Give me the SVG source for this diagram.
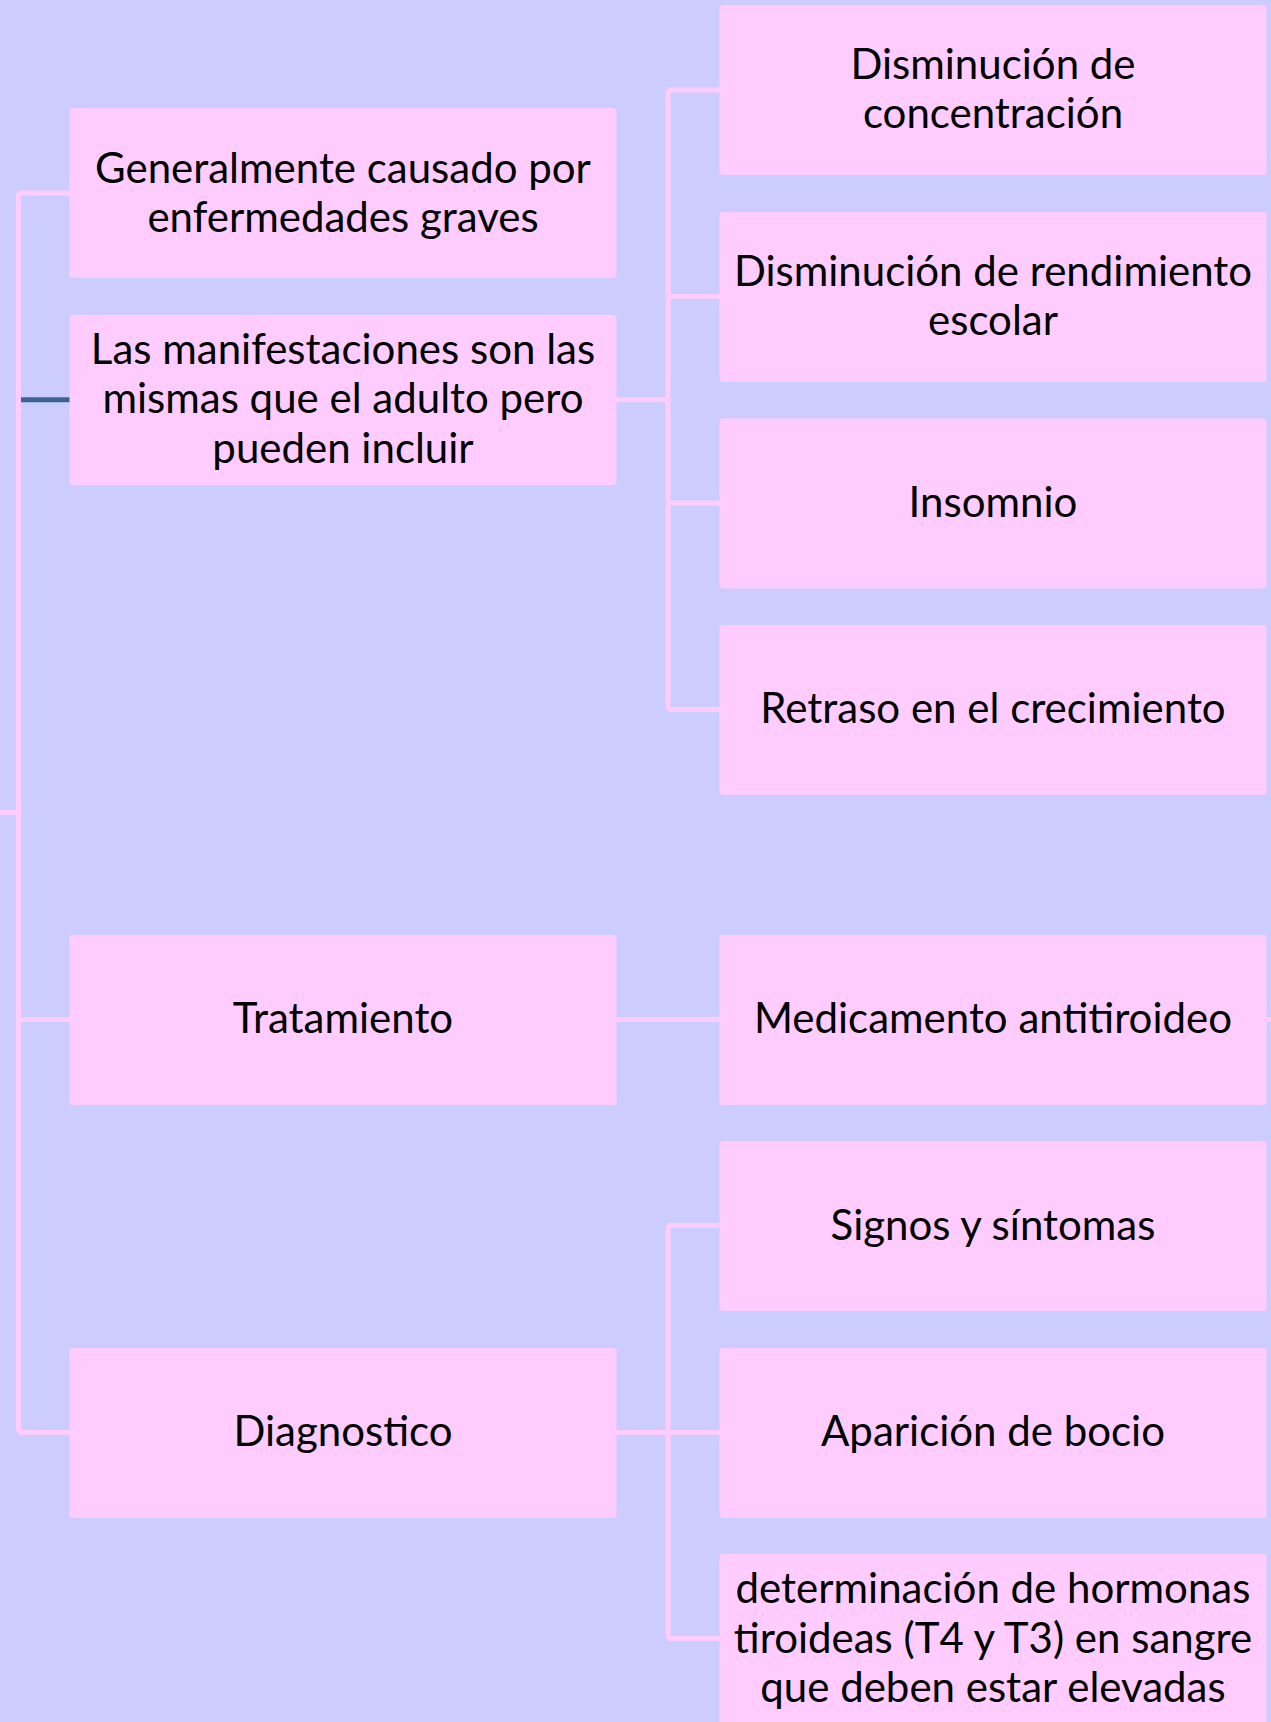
<svg xmlns="http://www.w3.org/2000/svg" width="1271" height="1722" viewBox="0 0 1271 1722">
<style>
.bg{fill:#CCCCFF}
.box{fill:#FFCCFF}
.ln{stroke:#FFCCFF;stroke-width:5;fill:none}
.t{font-family:Lato,"Open Sans",sans-serif;font-size:42px;fill:#000;text-anchor:middle}
</style>
<rect class="bg" x="0" y="0" width="1271" height="1722"/>
<g id="connectors">
<path class="ln" d="M0,812.5 H18.5 M18.5,193 V1432.5 M18.5,193 H70 M18.5,1019.5 H70 M18.5,1432.5 H70"/>
<path d="M21,399.7 H70" stroke="#3A6494" stroke-width="5" fill="none"/>
<path class="ln" d="M616,399.7 H668 M668,90 V709.5 M668,90 H720 M668,296.5 H720 M668,503 H720 M668,709.5 H720"/>
<path class="ln" d="M616,1019.5 H720 M1266,1019.5 H1271"/>
<path class="ln" d="M616,1432.5 H720 M668,1225.5 V1638.5 M668,1225.5 H720 M668,1638.5 H720"/>
</g>
<g id="n-causado"><rect class="box" x="69.5" y="108" width="547" height="170" rx="3"/>
<text class="t" x="343" y="182.5">Generalmente causado por</text><text class="t" x="343" y="232">enfermedades graves</text></g>
<g id="n-manif"><rect class="box" x="69.5" y="315" width="547" height="170" rx="3"/>
<text class="t" x="343" y="363.5">Las manifestaciones son las</text><text class="t" x="343" y="413">mismas que el adulto pero</text><text class="t" x="343" y="462.5">pueden incluir</text></g>
<g id="n-trat"><rect class="box" x="69.5" y="935" width="547" height="170" rx="3"/>
<text class="t" x="343" y="1032.5">Tratamiento</text></g>
<g id="n-diag"><rect class="box" x="69.5" y="1348" width="547" height="170" rx="3"/>
<text class="t" x="343" y="1445.5">Diagnostico</text></g>
<g id="n-conc"><rect class="box" x="719.5" y="5" width="547" height="170" rx="3"/>
<text class="t" x="993" y="79">Disminución de</text><text class="t" x="993" y="127.5">concentración</text></g>
<g id="n-rend"><rect class="box" x="719.5" y="212" width="547" height="170" rx="3"/>
<text class="t" x="993" y="285.5">Disminución de rendimiento</text><text class="t" x="993" y="334.5">escolar</text></g>
<g id="n-insom"><rect class="box" x="719.5" y="418.5" width="547" height="170" rx="3"/>
<text class="t" x="993" y="516.5">Insomnio</text></g>
<g id="n-retr"><rect class="box" x="719.5" y="625" width="547" height="170" rx="3"/>
<text class="t" x="993" y="723">Retraso en el crecimiento</text></g>
<g id="n-med"><rect class="box" x="719.5" y="935" width="547" height="170" rx="3"/>
<text class="t" x="993" y="1032.5">Medicamento antitiroideo</text></g>
<g id="n-signos"><rect class="box" x="719.5" y="1141" width="547" height="170" rx="3"/>
<text class="t" x="993" y="1239.5">Signos y síntomas</text></g>
<g id="n-bocio"><rect class="box" x="719.5" y="1348" width="547" height="170" rx="3"/>
<text class="t" x="993" y="1445.5">Aparición de bocio</text></g>
<g id="n-determ"><rect class="box" x="719.5" y="1554" width="547" height="175" rx="3"/>
<text class="t" x="993" y="1603">determinación de hormonas</text><text class="t" x="993" y="1652.5">tiroideas (T4 y T3) en sangre</text><text class="t" x="993" y="1701.5">que deben estar elevadas</text></g>
</svg>
